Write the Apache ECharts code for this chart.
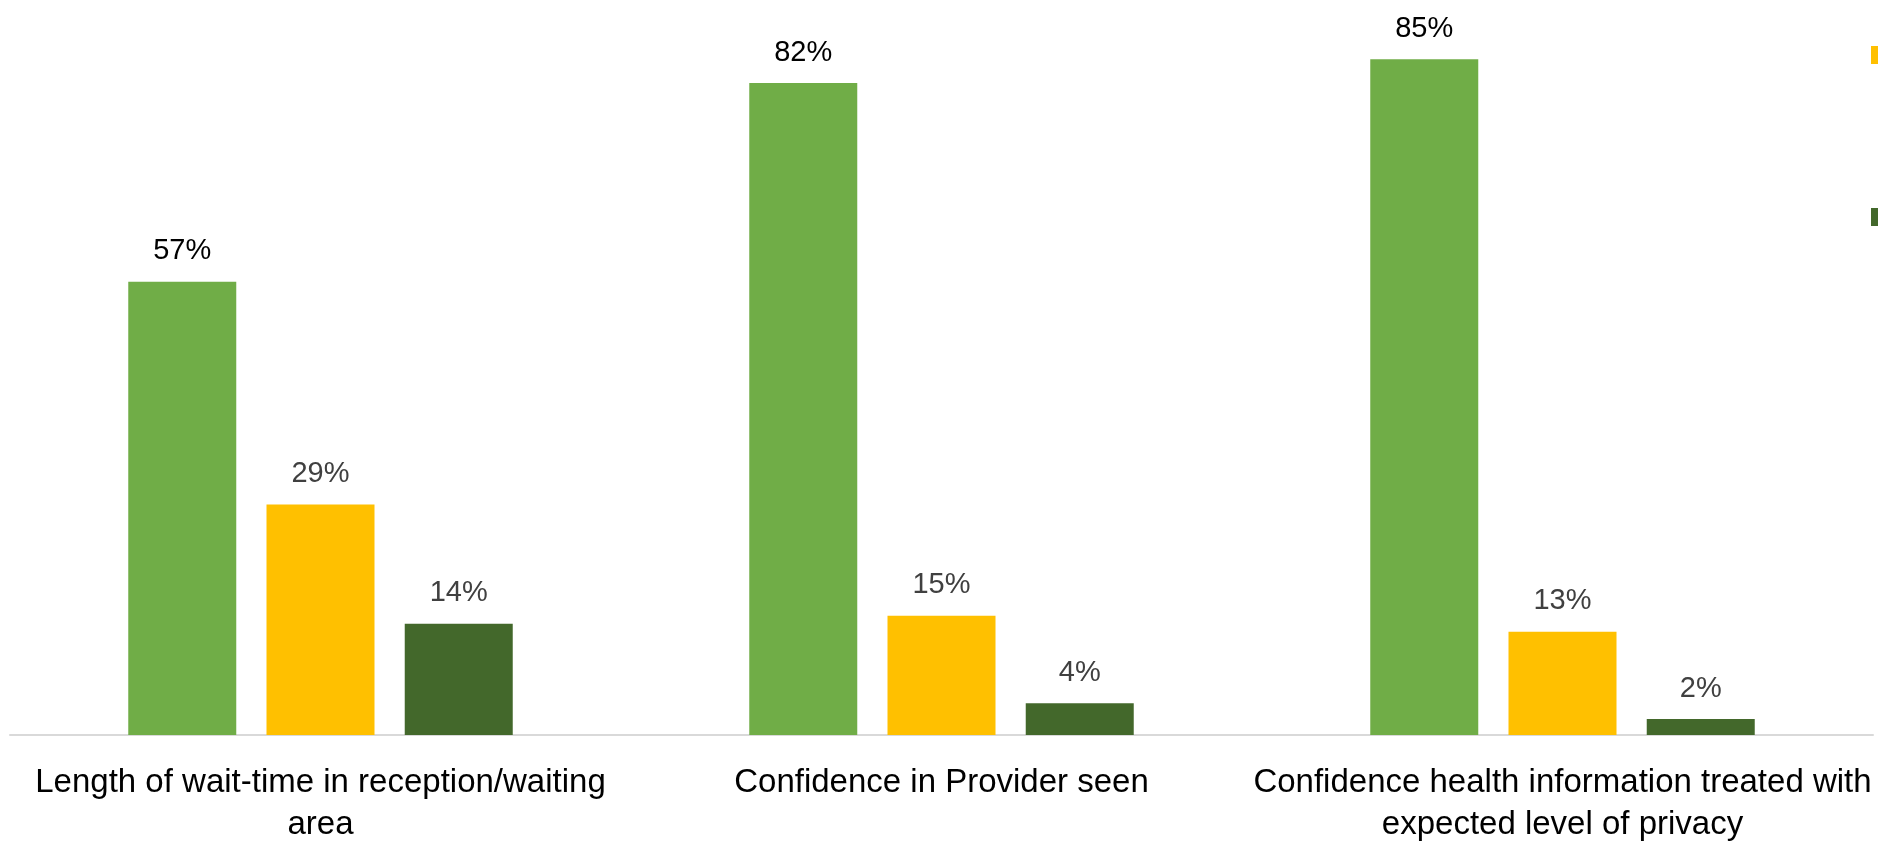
<!DOCTYPE html>
<html>
<head>
<meta charset="utf-8">
<title>Patient experience</title>
<script src="https://cdn.jsdelivr.net/npm/echarts@6/dist/echarts.min.js"></script>
<style>
  html, body { margin: 0; padding: 0; background: #ffffff; }
  #chart { width: 1878px; height: 841px; }
</style>
</head>
<body>
<div id="chart"></div>
<script>
// Survey topics along the x axis
const categories = [
  'Length of wait-time in reception/waiting\narea',
  'Confidence in Provider seen',
  'Confidence health information treated with\nexpected level of privacy'
];

// Response shares, in percent
const seriesNames = ['Satisfied', 'Neutral', 'Dissatisfied'];
const satisfied = [57, 82, 85];
const neutral = [29, 15, 13];
const dissatisfied = [14, 4, 2];

const colors = ['#70AD47', '#FFC000', '#43682B'];
const labelColors = ['#000000', '#404040', '#404040'];
const values = [satisfied, neutral, dissatisfied];

const chart = echarts.init(document.getElementById('chart'), null, { renderer: 'canvas' });

chart.setOption({
  animation: false,
  backgroundColor: '#ffffff',
  grid: {
    left: 10, right: 5, top: 19.5, bottom: 106,
    containLabel: false,
    outerBoundsMode: 'none'
  },
  legend: {
    orient: 'vertical',
    left: 1871,
    top: -116,
    itemWidth: 18,
    itemHeight: 18,
    itemGap: 144,
    padding: 0,
    icon: 'rect',
    data: seriesNames,
    textStyle: { fontFamily: 'Liberation Sans', fontSize: 12, lineHeight: 18, color: '#404040' }
  },
  xAxis: {
    type: 'category',
    data: categories,
    axisLine: { show: true, lineStyle: { color: '#d9d9d9', width: 2 } },
    axisTick: { show: false },
    axisLabel: {
      interval: 0,
      margin: 27,
      fontFamily: 'Liberation Sans',
      fontSize: 33,
      lineHeight: 42,
      color: '#000000'
    }
  },
  yAxis: {
    type: 'value',
    min: 0,
    max: 90,
    show: false,
    splitLine: { show: false }
  },
  series: values.map((data, i) => ({
    name: seriesNames[i],
    type: 'bar',
    data: data,
    barWidth: 108,
    barGap: '28%',
    itemStyle: { color: colors[i] },
    label: {
      show: true,
      position: 'top',
      distance: 16,
      formatter: '{c}%',
      fontFamily: 'Liberation Sans',
      fontSize: 29,
      color: labelColors[i]
    }
  }))
});
</script>
</body>
</html>
